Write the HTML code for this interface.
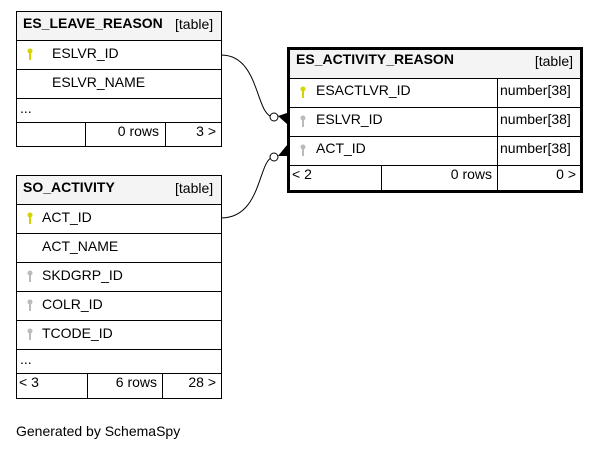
<!DOCTYPE html>
<html><head><style>body{margin:0;background:#fff}svg{display:block}text{font-family:"Liberation Sans",sans-serif;font-size:14px;fill:#000}.b{font-weight:bold}</style></head><body>
<svg width="599" height="453" viewBox="0 0 599 453">
<g fill="none" stroke="#000" stroke-width="1">
<rect x="16.5" y="11.5" width="205" height="29" fill="#f4f4f4"/>
<rect x="16.5" y="11.5" width="205" height="135"/>
<path d="M16 40.5H221M16 69.5H221M16 98.5H221M16 122.5H221M85.5 122V146M165.5 122V146"/>
<rect x="16.5" y="175.5" width="205" height="29" fill="#f4f4f4"/>
<rect x="16.5" y="175.5" width="205" height="223"/>
<path d="M16 204.5H221M16 233.5H221M16 262.5H221M16 291.5H221M16 320.5H221M16 349.5H221M16 373.5H221M87.5 373V398M162.5 373V398"/>
<rect x="288" y="48" width="293" height="30" fill="#f4f4f4" stroke="none"/>
<path d="M288 78.5H581M288 107.5H581M288 136.5H581M288 165.5H581M497.5 78V165M381.5 165V191M497.5 165V191"/>
<rect x="288.5" y="48.5" width="293" height="143" stroke-width="3"/>
<path d="M221 55C260 55 255 115 273 117"/>
<path d="M221 218C262 218 258 160 273 157"/>
<circle cx="274" cy="117" r="4" fill="#fff"/>
<circle cx="274" cy="157" r="4" fill="#fff"/>
</g>
<path d="M278 116L287 113L287 124Z" fill="#000"/>
<path d="M278 156L287 145L287 156Z" fill="#000"/>
<g fill="#d4d400"><circle cx="30" cy="51" r="2.5"/><rect x="29" y="52" width="2" height="8"/><circle cx="30" cy="215" r="2.5"/><rect x="29" y="216" width="2" height="8"/><circle cx="303" cy="89" r="2.5"/><rect x="302" y="90" width="2" height="8"/></g>
<g fill="#bbb"><circle cx="30" cy="273" r="2.5"/><rect x="29" y="274" width="2" height="8"/><circle cx="30" cy="302" r="2.5"/><rect x="29" y="303" width="2" height="8"/><circle cx="30" cy="331" r="2.5"/><rect x="29" y="332" width="2" height="8"/><circle cx="303" cy="118" r="2.5"/><rect x="302" y="119" width="2" height="8"/><circle cx="303" cy="147" r="2.5"/><rect x="302" y="148" width="2" height="8"/></g>
<g transform="translate(0,-2)">
<text x="23" y="30" class="b">ES_LEAVE_REASON</text><text x="175" y="31">[table]</text>
<text x="52" y="60">ESLVR_ID</text><text x="52" y="89">ESLVR_NAME</text><text x="20" y="115">...</text>
<text x="159" y="138" text-anchor="end">0 rows</text><text x="216" y="138" text-anchor="end">3 &gt;</text>
<text x="23" y="194" class="b">SO_ACTIVITY</text><text x="175" y="195">[table]</text>
<text x="42" y="224">ACT_ID</text><text x="42" y="253">ACT_NAME</text><text x="42" y="282">SKDGRP_ID</text><text x="42" y="311">COLR_ID</text><text x="42" y="340">TCODE_ID</text><text x="20" y="366">...</text>
<text x="19" y="389">&lt; 3</text><text x="157" y="389" text-anchor="end">6 rows</text><text x="216" y="389" text-anchor="end">28 &gt;</text>
<text x="296" y="66" class="b">ES_ACTIVITY_REASON</text><text x="573" y="68" text-anchor="end">[table]</text>
<text x="316" y="97">ESACTLVR_ID</text><text x="316" y="126">ESLVR_ID</text><text x="316" y="155">ACT_ID</text>
<text x="500" y="97">number[38]</text><text x="500" y="126">number[38]</text><text x="500" y="155">number[38]</text>
<text x="292" y="181">&lt; 2</text><text x="492" y="181" text-anchor="end">0 rows</text><text x="576" y="181" text-anchor="end">0 &gt;</text>
<text x="16" y="438">Generated by SchemaSpy</text>
</g>
</svg></body></html>
